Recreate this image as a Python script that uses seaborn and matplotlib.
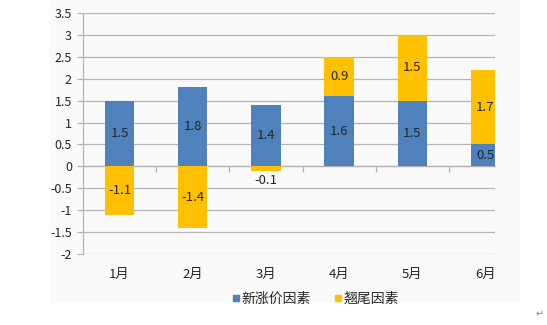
import matplotlib
matplotlib.use("Agg")
import matplotlib.pyplot as plt
from matplotlib.patches import Rectangle
from matplotlib.lines import Line2D
import numpy as np
import pandas as pd
import seaborn as sns

# Monthly contributions (percentage points)
months = ["1月", "2月", "3月", "4月", "5月", "6月"]
new_price = [1.5, 1.8, 1.4, 1.6, 1.5, 0.5]       # 新涨价因素
carryover = [-1.1, -1.4, -0.1, 0.9, 1.5, 1.7]    # 翘尾因素
series_names = ["新涨价因素", "翘尾因素"]
y_ticks = [-2, -1.5, -1, -0.5, 0, 0.5, 1, 1.5, 2, 2.5, 3, 3.5]

BLUE = "#4F81BD"
GOLD = "#FFC000"
GRID = "#B3B3B3"
TEXT = "#262626"

sns.set_theme(style="white")
plt.rcParams["font.family"] = ["Noto Sans CJK SC", "DejaVu Sans"]

df = pd.DataFrame({"month": months, "new": new_price, "tail": carryover})
# positive carry-over stacks on top of the blue segment, negative hangs below zero
df["tail_top"] = np.where(df["tail"] > 0, df["new"] + df["tail"], df["tail"])

fig = plt.figure(figsize=(5.47, 3.25), dpi=100)
fig.patch.set_facecolor("white")
fig.add_artist(Rectangle((50 / 547, 1 - 303 / 325), (520 - 50) / 547, 303 / 325,
                         transform=fig.transFigure, facecolor="#FAFAFA",
                         edgecolor="none", zorder=-10))

ax = fig.add_axes([83 / 547, 1 - 254 / 325, (495 - 83) / 547, (254 - 13) / 325])
ax.set_facecolor("none")

sns.barplot(data=df, x="month", y="tail_top", color=GOLD, width=0.4,
            saturation=1, linewidth=0, ax=ax, zorder=2)
sns.barplot(data=df, x="month", y="new", color=BLUE, width=0.4,
            saturation=1, linewidth=0, ax=ax, zorder=3)

# value labels centred in each segment; very thin segments get the label just below
for i, row in df.iterrows():
    ax.text(i, row["new"] / 2, f"{row['new']:g}", ha="center", va="center",
            fontsize=9.5, color=TEXT, zorder=5)
    if row["tail"] > 0:
        yc = row["new"] + row["tail"] / 2
    elif row["tail"] > -0.3:
        yc = row["tail"] - 0.22
    else:
        yc = row["tail"] / 2
    ax.text(i, yc, f"{row['tail']:g}", ha="center", va="center",
            fontsize=9.5, color=TEXT, zorder=5)

ax.set_ylim(-2, 3.5)
ax.set_xlim(-0.5, 5.13)
ax.set_yticks(y_ticks)
ax.set_yticklabels([f"{v:g}" for v in y_ticks])
ax.yaxis.grid(True, color=GRID, linewidth=0.9)
ax.set_axisbelow(True)
ax.set_xlabel("")
ax.set_ylabel("")

for side in ["top", "right", "bottom"]:
    ax.spines[side].set_visible(False)
ax.spines["left"].set_color(GRID)
ax.spines["left"].set_linewidth(0.9)

ax.tick_params(axis="y", which="both", left=True, length=4, width=0.9,
               color=GRID, labelsize=9, labelcolor=TEXT, pad=4)
ax.tick_params(axis="x", bottom=False, labelsize=9.5, labelcolor=TEXT, pad=4)

# horizontal category axis sits at zero, with ticks between the months
zero_axis = ax.secondary_xaxis(2 / 5.5)
zero_axis.set_xticks([0.5, 1.5, 2.5, 3.5, 4.5])
zero_axis.set_xticklabels([])
zero_axis.tick_params(axis="x", direction="out", length=4, width=0.9, color=GRID)
zero_axis.spines["bottom"].set_color(GRID)
zero_axis.spines["bottom"].set_linewidth(0.9)
zero_axis.spines["top"].set_visible(False)

handles = [Line2D([], [], marker="s", linestyle="none", markersize=5,
                  markerfacecolor=c, markeredgecolor=c) for c in (BLUE, GOLD)]
fig.legend(handles, series_names, loc="center", bbox_to_anchor=(315 / 547, 1 - 299 / 325),
           ncol=2, frameon=False, fontsize=10, handletextpad=0.05,
           columnspacing=1.6, handlelength=0.7, labelcolor=TEXT)

fig.text(540 / 547, 1 - 314 / 325, "↵", fontsize=7, color="#888888",
         ha="center", va="center")

fig.savefig("out.png", dpi=100, facecolor=fig.get_facecolor())
